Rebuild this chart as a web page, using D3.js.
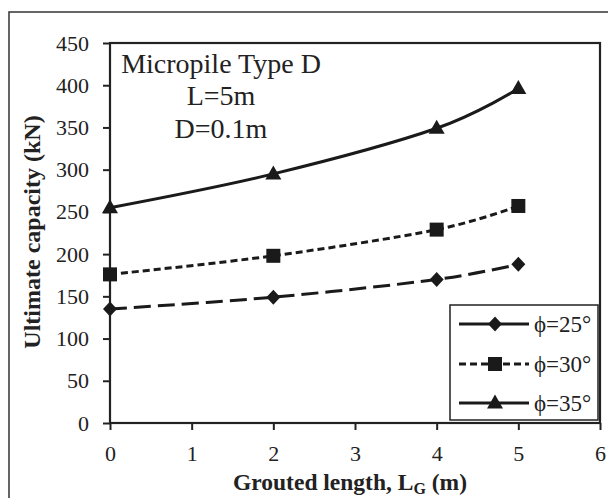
<!DOCTYPE html>
<html>
<head>
<meta charset="utf-8">
<script src="https://cdn.jsdelivr.net/npm/d3@7"></script>
<style>
  body { margin: 0; background: #fff; }
  text { font-family: "Liberation Serif", "Times New Roman", serif; fill: #222; }
</style>
</head>
<body>
<script>
// values
const groutedLength = [0, 2, 4, 5];
const phi25 = [135, 149, 170, 188];
const phi30 = [176, 198, 229, 257];
const phi35 = [255, 295, 349, 396];
const seriesNames = ["ϕ=25°", "ϕ=30°", "ϕ=35°"];
const xTicks = [0, 1, 2, 3, 4, 5, 6];
const yTicks = [0, 50, 100, 150, 200, 250, 300, 350, 400, 450];
const noteLines = ["Micropile Type D", "L=5m", "D=0.1m"];

const series = [
  { name: seriesNames[0], values: phi25, dash: "17,7", legendDash: null, marker: "diamond" },
  { name: seriesNames[1], values: phi30, dash: "7,4", legendDash: "7,4", marker: "square" },
  { name: seriesNames[2], values: phi35, dash: null, legendDash: null, marker: "triangle" }
];

const W = 608, H = 498;
const svg = d3.select("body").append("svg")
  .attr("width", W)
  .attr("height", H);

// outer frame
svg.append("rect")
  .attr("x", 9).attr("y", 12)
  .attr("width", W + 10).attr("height", H + 10)
  .attr("fill", "none")
  .attr("stroke", "#333")
  .attr("stroke-width", 1.5);

const pLeft = 110, pRight = 600, pTop = 43, pBottom = 423;

const x = d3.scaleLinear().domain([0, 6]).range([pLeft, pRight]);
const y = d3.scaleLinear().domain([0, 450]).range([pBottom, pTop]);

// axes
const gx = svg.append("g")
  .attr("transform", `translate(0,${pBottom})`)
  .call(d3.axisBottom(x).tickValues(xTicks).tickSize(7).tickPadding(15).tickFormat(d3.format("d")));
gx.select(".domain").remove();
gx.selectAll("line").attr("stroke", "#222").attr("stroke-width", 2);
gx.selectAll("text").style("font-size", "22px").attr("fill", "#222");

const gy = svg.append("g")
  .attr("transform", `translate(${pLeft},0)`)
  .call(d3.axisLeft(y).tickValues(yTicks).tickSize(7).tickPadding(14));
gy.select(".domain").remove();
gy.selectAll("line").attr("stroke", "#222").attr("stroke-width", 2);
gy.selectAll("text").style("font-size", "22px").attr("fill", "#222");

// plot frame
svg.append("rect")
  .attr("x", pLeft).attr("y", pTop)
  .attr("width", pRight - pLeft).attr("height", pBottom - pTop)
  .attr("fill", "none")
  .attr("stroke", "#222")
  .attr("stroke-width", 2.2);

// axis titles
svg.append("text")
  .attr("x", (pLeft + pRight) / 2 - 5)
  .attr("y", 490)
  .attr("text-anchor", "middle")
  .style("font-size", "23.5px")
  .style("font-weight", "bold")
  .call(t => {
    t.append("tspan").text("Grouted length, L");
    t.append("tspan").attr("dy", 4).style("font-size", "16px").text("G");
    t.append("tspan").attr("dy", -4).text(" (m)");
  });

svg.append("text")
  .attr("transform", "translate(40,232) rotate(-90)")
  .attr("text-anchor", "middle")
  .style("font-size", "24px")
  .style("font-weight", "bold")
  .text("Ultimate capacity (kN)");

// note
svg.selectAll(".note")
  .data(noteLines)
  .enter()
  .append("text")
  .attr("class", "note")
  .attr("x", 221)
  .attr("y", (d, i) => [73, 105, 138][i])
  .attr("text-anchor", "middle")
  .style("font-size", "28px")
  .text(d => d);

function drawMarker(g, type, cx, cy) {
  if (type === "diamond") {
    g.append("path")
      .attr("d", `M${cx},${cy - 7.5}L${cx + 7},${cy}L${cx},${cy + 7.5}L${cx - 7},${cy}Z`)
      .attr("fill", "#1a1a1a");
  } else if (type === "square") {
    g.append("rect")
      .attr("x", cx - 7).attr("y", cy - 7)
      .attr("width", 14).attr("height", 14)
      .attr("fill", "#1a1a1a");
  } else {
    g.append("path")
      .attr("d", `M${cx},${cy - 8.5}L${cx + 8},${cy + 5.5}L${cx - 8},${cy + 5.5}Z`)
      .attr("fill", "#1a1a1a");
  }
}

const line = d3.line()
  .x(d => x(d[0]))
  .y(d => y(d[1]))
  .curve(d3.curveCardinal.tension(0));

series.forEach(s => {
  const pts = groutedLength.map((g, i) => [g, s.values[i]]);
  const g = svg.append("g");
  g.append("path")
    .attr("d", line(pts))
    .attr("fill", "none")
    .attr("stroke", "#1a1a1a")
    .attr("stroke-width", 3)
    .attr("stroke-dasharray", s.dash);
  pts.forEach(p => drawMarker(g, s.marker, x(p[0]), y(p[1])));
});

// legend
const lg = svg.append("g");
lg.append("rect")
  .attr("x", 450).attr("y", 305)
  .attr("width", 148).attr("height", 115)
  .attr("fill", "#fff")
  .attr("stroke", "#222")
  .attr("stroke-width", 1.5);

const rowY = [324, 364, 403];
series.forEach((s, i) => {
  lg.append("line")
    .attr("x1", 459).attr("x2", 529)
    .attr("y1", rowY[i]).attr("y2", rowY[i])
    .attr("stroke", "#1a1a1a")
    .attr("stroke-width", 3)
    .attr("stroke-dasharray", s.legendDash);
  drawMarker(lg, s.marker, 495, rowY[i]);
  lg.append("text")
    .attr("x", 534)
    .attr("y", rowY[i] + 8)
    .style("font-size", "23px")
    .text(s.name);
});
</script>
</body>
</html>
